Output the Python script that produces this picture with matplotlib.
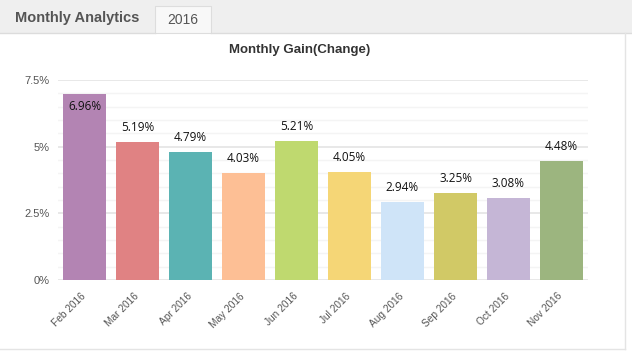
import matplotlib.pyplot as plt
from matplotlib.patches import Rectangle
from matplotlib.lines import Line2D
from matplotlib.ticker import MultipleLocator
import matplotlib.transforms as mtransforms

months = ["Feb 2016", "Mar 2016", "Apr 2016", "May 2016", "Jun 2016",
          "Jul 2016", "Aug 2016", "Sep 2016", "Oct 2016", "Nov 2016"]
gains = [6.96, 5.19, 4.79, 4.03, 5.21, 4.05, 2.94, 3.25, 3.08, 4.48]
colors = ["#b384b3", "#e08283", "#5bb3b3", "#fdbf95", "#bfd96f",
          "#f5d676", "#cfe4f8", "#d1c966", "#c5b6d6", "#9cb57f"]
y_ticks = [0, 2.5, 5, 7.5]
y_tick_labels = ["0%", "2.5%", "5%", "7.5%"]

W, H = 632, 357
fig = plt.figure(figsize=(W / 100, H / 100), dpi=100)
fig.patch.set_facecolor("white")

# header strip with tab
fig.patches.append(Rectangle((0, 1 - 33 / H), 1, 33 / H, transform=fig.transFigure,
                             facecolor="#efefef", edgecolor="none", zorder=0))
fig.patches.append(Rectangle((155 / W, 1 - 33 / H), 56 / W, 27 / H, transform=fig.transFigure,
                             facecolor="#f8f8f8", edgecolor="#dddddd", linewidth=0.8, zorder=1))
fig.lines.append(Line2D([0, 155 / W], [1 - 33 / H] * 2, transform=fig.transFigure,
                        color="#dcdcdc", linewidth=1))
fig.lines.append(Line2D([211 / W, 1], [1 - 33 / H] * 2, transform=fig.transFigure,
                        color="#dcdcdc", linewidth=1))
fig.lines.append(Line2D([625 / W] * 2, [1 - 349 / H, 1 - 33 / H], transform=fig.transFigure,
                        color="#e4e4e4", linewidth=1))
fig.lines.append(Line2D([0, 625 / W], [1 - 349 / H] * 2, transform=fig.transFigure,
                        color="#e4e4e4", linewidth=1))
fig.text(15 / W, 1 - 18 / H, "Monthly Analytics", fontsize=10.5, fontweight="bold",
         color="#555555", va="center", ha="left", family="Liberation Sans")
fig.text(183 / W, 1 - 20 / H, "2016", fontsize=10, color="#555555",
         va="center", ha="center", family="Liberation Sans")
fig.text(300 / W, 1 - 50 / H, "Monthly Gain(Change)", fontsize=9.5, fontweight="bold",
         color="#333333", va="center", ha="center", family="Liberation Sans")

ax = fig.add_axes([58 / W, 1 - 280 / H, 530 / W, 200 / H])
x = list(range(len(months)))
ax.bar(x, gains, width=0.83, color=colors, zorder=3)

# value labels: inside the tallest bar, above the rest
for i, v in enumerate(gains):
    if v > 6.5:
        ax.text(i, v - 0.2, f"{v:.2f}%", ha="center", va="top", fontsize=8.5,
                color="#111111", family="Open Sans", zorder=4)
    else:
        ax.text(i, v + 0.3, f"{v:.2f}%", ha="center", va="bottom", fontsize=8.5,
                color="#111111", family="Open Sans", zorder=4)

ax.set_xlim(-0.5, 9.5)
ax.set_ylim(0, 7.5)
ax.set_yticks(y_ticks)
ax.set_yticklabels(y_tick_labels, family="Liberation Sans", fontsize=8, color="#555555")
ax.yaxis.set_minor_locator(MultipleLocator(0.5))
ax.grid(axis="y", which="major", color="#e6e6e6", linewidth=1.3, zorder=0)
ax.grid(axis="y", which="minor", color="#f4f4f4", linewidth=1, zorder=0)
ax.set_xticks(x)
ax.set_xticklabels([])

# rotated month labels ending at each bar's centre
shift = mtransforms.ScaledTranslation(-4 / 100, -11 / 100, fig.dpi_scale_trans)
for i, m in enumerate(months):
    ax.text(i, 0, m, rotation=45, ha="right", va="top", rotation_mode="anchor",
            transform=ax.get_xaxis_transform() + shift,
            family="Liberation Sans", fontsize=7.3, color="#555555")

ax.tick_params(axis="both", which="both", length=0, pad=6)
for s in ax.spines.values():
    s.set_visible(False)

fig.savefig("out.png", dpi=100)
